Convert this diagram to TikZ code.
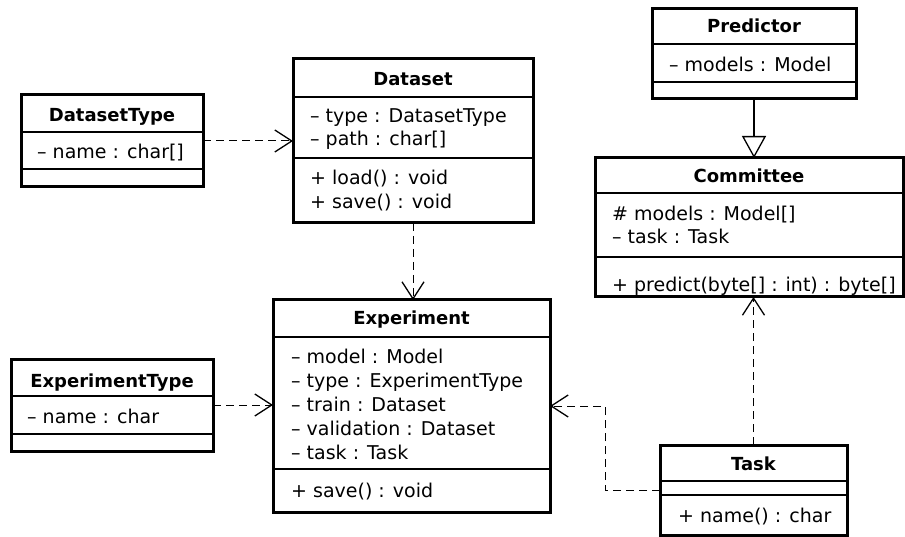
\documentclass[tikz,border=0pt]{standalone}
\usepackage{fontspec}
\setmainfont{DejaVu Sans}
\usetikzlibrary{arrows.meta}
\begin{document}
\begin{tikzpicture}[x=1pt,y=-1pt,
  umlbox/.style={draw, line width=3pt, fill=white, inner sep=0pt, outer sep=0pt, anchor=north west},
  divline/.style={line width=1.3pt},
  ttl/.style={anchor=base, inner sep=0pt, font=\fontsize{18}{22}\selectfont\bfseries},
  attr/.style={anchor=base west, inner sep=0pt, font=\fontsize{19}{23}\selectfont},
  dep/.style={draw, line width=1pt, dash pattern=on 8pt off 5pt, -{Straight Barb[length=17pt,width=22pt,line width=1.3pt]}},
  gen/.style={draw, line width=1.3pt, -{Triangle[open, length=22pt, width=24pt, fill=white, line width=1.3pt]}}
]
\useasboundingbox (0,0) rectangle (905,537);

% DatasetType
\node[umlbox, minimum width=182pt, minimum height=92pt] (dtype) at (21,95) {};
\draw[divline] (dtype.west |- 0,132) -- (dtype.east |- 0,132);
\draw[divline] (dtype.west |- 0,169) -- (dtype.east |- 0,169);
\node[ttl] (dtypeT) at (dtype.center |- 0,122) {DatasetType};
\node[attr] (dtypeA) at (37,159) {– name : char[]};

% Dataset
\node[umlbox, minimum width=240pt, minimum height=164pt] (dataset) at (293,59) {};
\draw[divline] (dataset.west |- 0,97) -- (dataset.east |- 0,97);
\draw[divline] (dataset.west |- 0,158) -- (dataset.east |- 0,158);
\node[ttl] (datasetT) at (dataset.center |- 0,86) {Dataset};
\node[attr] (datasetA1) at (310,123) {– type : DatasetType};
\node[attr] (datasetA2) at (310,146) {– path : char[]};
\node[attr] (datasetM1) at (310,185) {+ load() : void};
\node[attr] (datasetM2) at (310,209) {+ save() : void};

% Predictor
\node[umlbox, minimum width=204pt, minimum height=90pt] (predictor) at (652,9) {};
\draw[divline] (predictor.west |- 0,44) -- (predictor.east |- 0,44);
\draw[divline] (predictor.west |- 0,82) -- (predictor.east |- 0,82);
\node[ttl] (predictorT) at (predictor.center |- 0,33) {Predictor};
\node[attr] (predictorA) at (669,72) {– models : Model};

% Committee
\node[umlbox, minimum width=308pt, minimum height=139pt] (committee) at (595,158) {};
\draw[divline] (committee.west |- 0,193) -- (committee.east |- 0,193);
\draw[divline] (committee.west |- 0,257) -- (committee.east |- 0,257);
\node[ttl] (committeeT) at (committee.center |- 0,183) {Committee};
\node[attr] (committeeA1) at (612,221) {\# models : Model[]};
\node[attr] (committeeA2) at (612,244) {– task : Task};
\node[attr] (committeeM1) at (612,292) {+ predict(byte[] : int) : byte[]};

% ExperimentType
\node[umlbox, minimum width=202pt, minimum height=92pt] (etype) at (11,359) {};
\draw[divline] (etype.west |- 0,396) -- (etype.east |- 0,396);
\draw[divline] (etype.west |- 0,434) -- (etype.east |- 0,434);
\node[ttl] (etypeT) at (etype.center |- 0,387) {ExperimentType};
\node[attr] (etypeA) at (27,423) {– name : char};

% Experiment
\node[umlbox, minimum width=277pt, minimum height=212pt] (experiment) at (273,300) {};
\draw[divline] (experiment.west |- 0,337) -- (experiment.east |- 0,337);
\draw[divline] (experiment.west |- 0,469) -- (experiment.east |- 0,469);
\node[ttl] (experimentT) at (experiment.center |- 0,325) {Experiment};
\node[attr] (experimentA1) at (291,363) {– model : Model};
\node[attr] (experimentA2) at (291,387) {– type : ExperimentType};
\node[attr] (experimentA3) at (291,411) {– train : Dataset};
\node[attr] (experimentA4) at (291,435) {– validation : Dataset};
\node[attr] (experimentA5) at (291,459) {– task : Task};
\node[attr] (experimentM1) at (291,497) {+ save() : void};

% Task
\node[umlbox, minimum width=187pt, minimum height=90pt] (task) at (660,445) {};
\draw[divline] (task.west |- 0,481) -- (task.east |- 0,481);
\draw[divline] (task.west |- 0,495) -- (task.east |- 0,495);
\node[ttl] (taskT) at (task.center |- 0,470) {Task};
\node[attr] (taskM1) at (678,522) {+ name() : char};

% connectors
\draw[dep] (dtype.east) -- (dtype.east -| dataset.west);
\draw[dep] (etype.east) -- (etype.east -| experiment.west);
\draw[dep] (dataset.south) -- (dataset.south |- experiment.north);
\draw[dep] (task.north) -- (task.north |- committee.south);
\draw[dep] (task.west) -- ++(-55,0) |- (experiment.east);
\draw[gen] (predictor.south) -- (predictor.south |- committee.north);
\end{tikzpicture}
\end{document}
